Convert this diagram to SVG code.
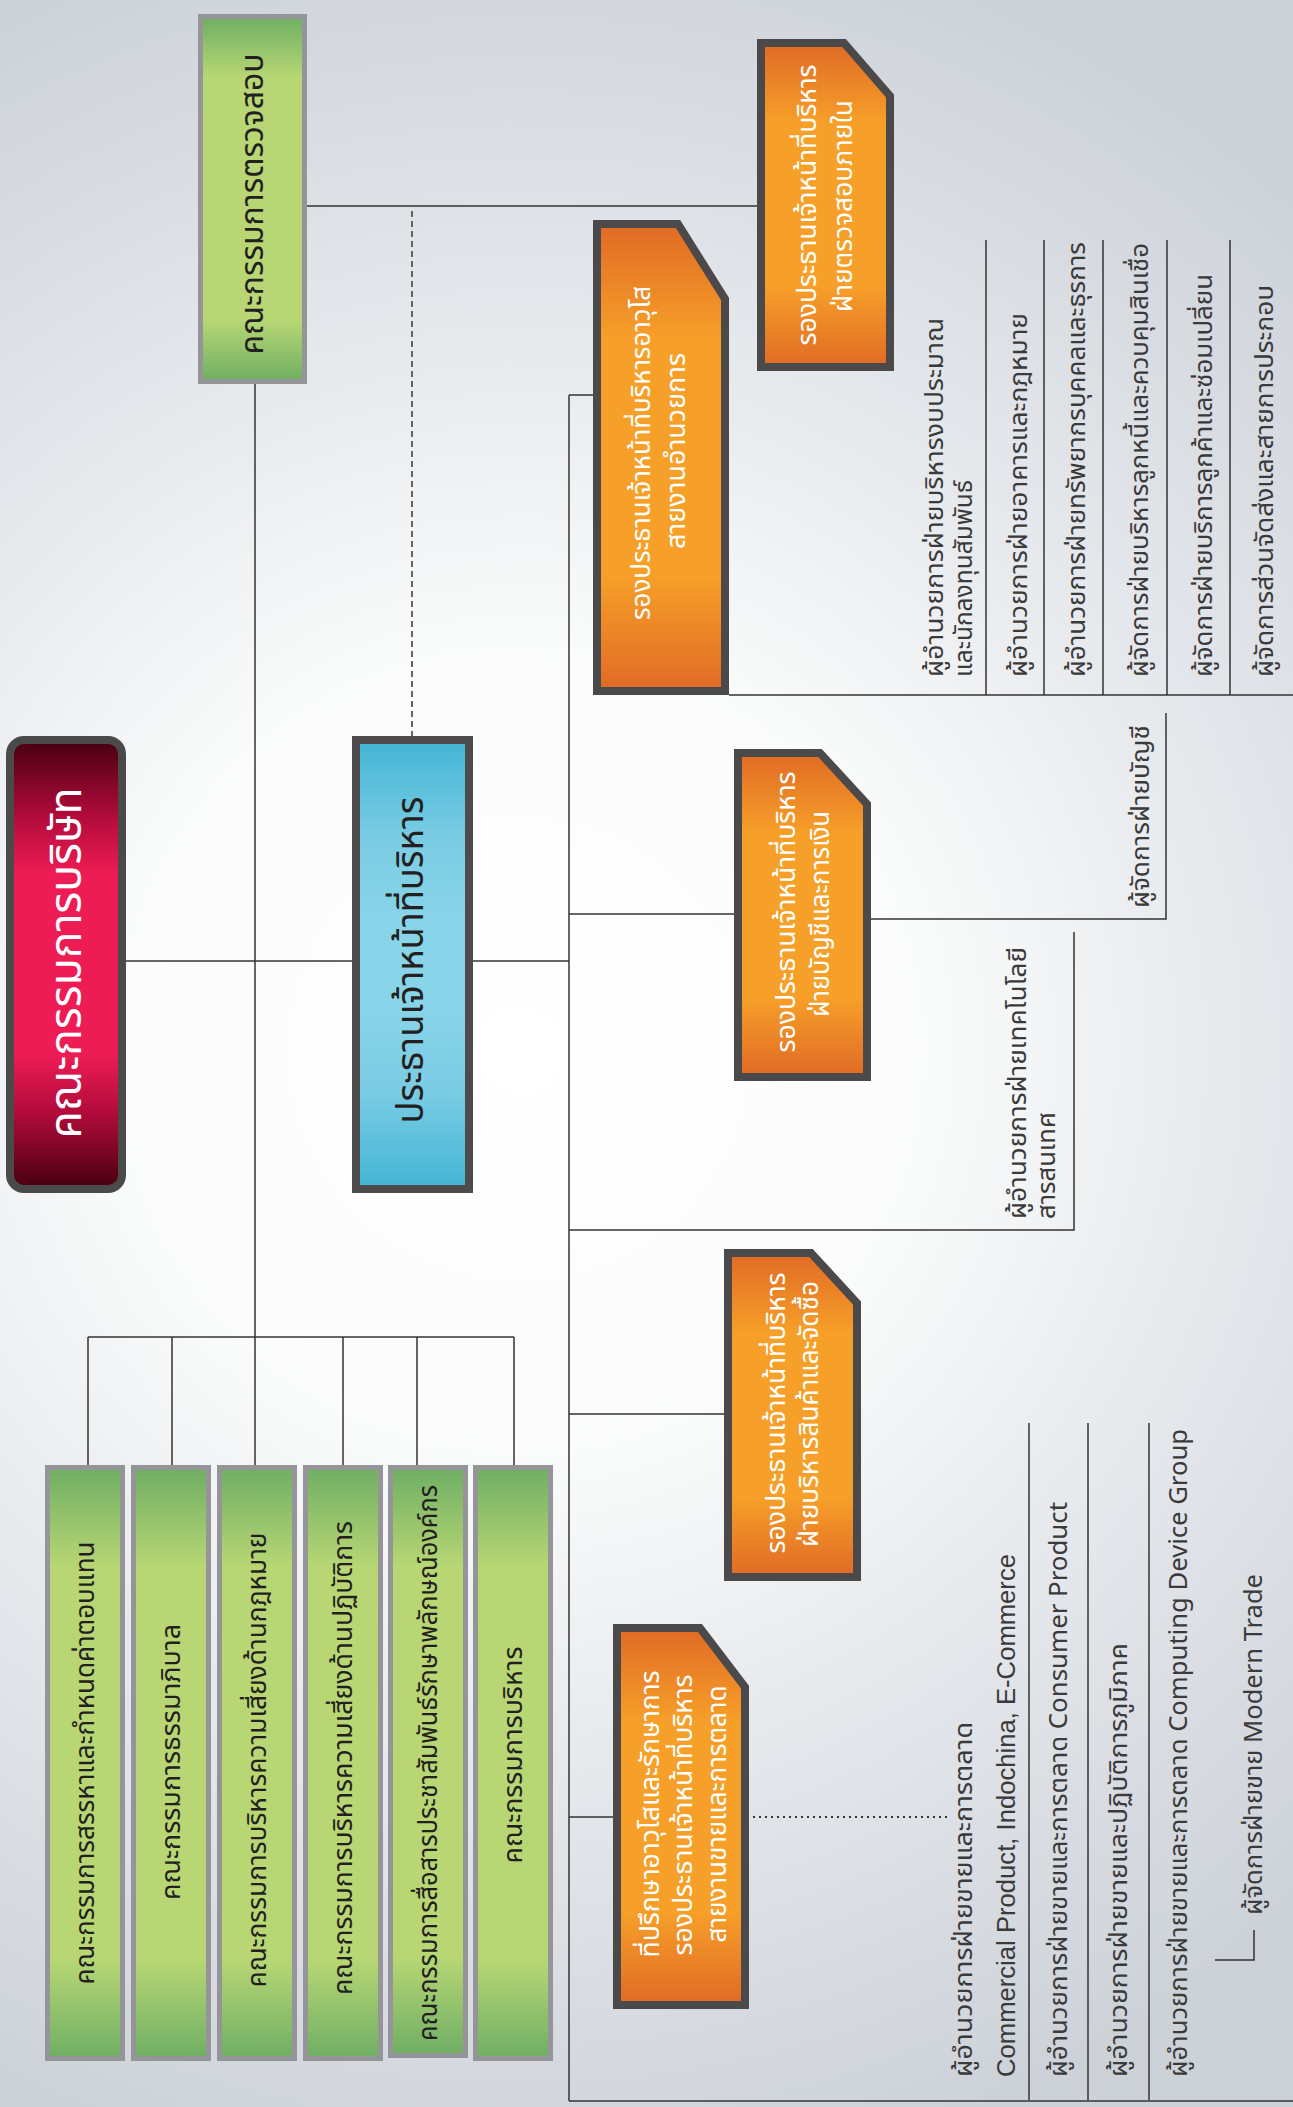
<svg xmlns="http://www.w3.org/2000/svg" width="1293" height="2107" viewBox="0 0 1293 2107">
<defs>
<radialGradient id="bg" gradientUnits="userSpaceOnUse" cx="520" cy="1050" r="1150">
<stop offset="0" stop-color="#FFFFFF"/>
<stop offset="0.35" stop-color="#FAFBFB"/>
<stop offset="0.65" stop-color="#E4E7EB"/>
<stop offset="1" stop-color="#CDD2D9"/>
</radialGradient>
<linearGradient id="gGreen" x1="0" y1="0" x2="0" y2="1">
<stop offset="0" stop-color="#6FAE64"/>
<stop offset="0.17" stop-color="#B8D774"/>
<stop offset="0.83" stop-color="#B8D774"/>
<stop offset="1" stop-color="#6FAE64"/>
</linearGradient>
<linearGradient id="gRed" x1="0" y1="0" x2="0" y2="1">
<stop offset="0" stop-color="#45000E"/>
<stop offset="0.17" stop-color="#B20B3C"/>
<stop offset="0.3" stop-color="#EE1C54"/>
<stop offset="0.7" stop-color="#EE1C54"/>
<stop offset="0.83" stop-color="#B20B3C"/>
<stop offset="1" stop-color="#45000E"/>
</linearGradient>
<linearGradient id="gBlue" x1="0" y1="0" x2="0" y2="1">
<stop offset="0" stop-color="#43B5D5"/>
<stop offset="0.22" stop-color="#7ACCE4"/>
<stop offset="0.4" stop-color="#88D4E9"/>
<stop offset="0.6" stop-color="#88D4E9"/>
<stop offset="0.78" stop-color="#7ACCE4"/>
<stop offset="1" stop-color="#43B5D5"/>
</linearGradient>
<linearGradient id="gOrange" x1="0" y1="0" x2="0" y2="1">
<stop offset="0" stop-color="#E06A25"/>
<stop offset="0.25" stop-color="#F7A029"/>
<stop offset="0.75" stop-color="#F7A029"/>
<stop offset="1" stop-color="#E06A25"/>
</linearGradient>
<style>
.ln{stroke:#333333;stroke-width:1.5;fill:none}
.dash{stroke:#555555;stroke-width:1.8;fill:none;stroke-dasharray:6 4}
.dot{stroke:#333333;stroke-width:2;fill:none;stroke-dasharray:2 4}
.gbox{fill:url(#gGreen);stroke:#959499;stroke-width:5}
.obox{fill:url(#gOrange);stroke:#4B4949;stroke-width:8;stroke-linejoin:miter}
.t{font-family:"Noto Sans Thai","Noto Sans Thai UI","Noto Sans","DejaVu Sans",sans-serif}
.ow{fill:#FFFFFF;font-size:26px}
.dk{fill:#231F20;font-size:26px}
.li{fill:#3A3A3A;font-size:25px}
</style>
</defs>
<rect x="0" y="0" width="1293" height="2107" fill="url(#bg)"/>

<g id="connectors">
<line class="ln" x1="255" y1="384" x2="255" y2="1465"/>
<line class="ln" x1="126" y1="961" x2="352" y2="961"/>
<line class="ln" x1="307" y1="206" x2="757" y2="206"/>
<line class="dash" x1="412" y1="211" x2="412" y2="736"/>
<line class="ln" x1="473" y1="961" x2="569" y2="961"/>
<line class="ln" x1="569" y1="395" x2="569" y2="2101"/>
<line class="ln" x1="569" y1="395" x2="593" y2="395"/>
<line class="ln" x1="729" y1="695" x2="1293" y2="695"/>
<line class="ln" x1="986" y1="240" x2="986" y2="695"/>
<line class="ln" x1="1044" y1="240" x2="1044" y2="695"/>
<line class="ln" x1="1103" y1="240" x2="1103" y2="695"/>
<line class="ln" x1="1167" y1="240" x2="1167" y2="695"/>
<line class="ln" x1="1230" y1="240" x2="1230" y2="695"/>
<line class="ln" x1="569" y1="914" x2="734" y2="914"/>
<polyline class="ln" points="871,919 1166,919 1166,713"/>
<polyline class="ln" points="569,1230 1074,1230 1074,932"/>
<line class="ln" x1="569" y1="1414" x2="724" y2="1414"/>
<line class="ln" x1="569" y1="1817" x2="613" y2="1817"/>
<line class="dot" x1="753" y1="1817" x2="947" y2="1817"/>
<line class="ln" x1="569" y1="2101" x2="1293" y2="2101"/>
<line class="ln" x1="1029" y1="1423" x2="1029" y2="2100"/>
<line class="ln" x1="1088" y1="1423" x2="1088" y2="2100"/>
<line class="ln" x1="1149" y1="1423" x2="1149" y2="2100"/>
<polyline class="ln" points="1215,1960 1254,1960 1254,1930"/>
<line class="ln" x1="88" y1="1337" x2="514" y2="1337"/>
<line class="ln" x1="88" y1="1337" x2="88" y2="1465"/>
<line class="ln" x1="172" y1="1337" x2="172" y2="1465"/>
<line class="ln" x1="343" y1="1337" x2="343" y2="1465"/>
<line class="ln" x1="417" y1="1337" x2="417" y2="1465"/>
<line class="ln" x1="514" y1="1337" x2="514" y2="1465"/>
</g>

<g id="audit-committee">
<rect class="gbox" x="200.5" y="16.5" width="104" height="365"/>
<text class="t dk" style="font-size:32px" transform="translate(263,204) rotate(-90)" text-anchor="middle" textLength="301" lengthAdjust="spacingAndGlyphs">คณะกรรมการตรวจสอบ</text>
</g>

<g id="board">
<rect x="10" y="740" width="112" height="449" rx="14" fill="url(#gRed)" stroke="#4A4A4A" stroke-width="8"/>
<text class="t" style="fill:#FFFFFF;font-size:44px" transform="translate(81,963) rotate(-90)" text-anchor="middle" textLength="351" lengthAdjust="spacingAndGlyphs">คณะกรรมการบริษัท</text>
</g>

<g id="ceo">
<rect x="356" y="740" width="113" height="449" fill="url(#gBlue)" stroke="#4D4B4C" stroke-width="8"/>
<text class="t" style="fill:#231F20;font-size:37px" transform="translate(423,960) rotate(-90)" text-anchor="middle" textLength="327" lengthAdjust="spacingAndGlyphs">ประธานเจ้าหน้าที่บริหาร</text>
</g>

<g id="vp-internal-audit">
<path class="obox" d="M761,43 L844,43 L890,96 L890,367 L761,367 Z"/>
<text class="t ow" transform="translate(816,205) rotate(-90)" text-anchor="middle" textLength="281" lengthAdjust="spacingAndGlyphs">รองประธานเจ้าหน้าที่บริหาร</text>
<text class="t ow" transform="translate(852,206) rotate(-90)" text-anchor="middle" textLength="212" lengthAdjust="spacingAndGlyphs">ฝ่ายตรวจสอบภายใน</text>
</g>

<g id="svp-admin">
<path class="obox" d="M597,224 L678,224 L725,299 L725,691 L597,691 Z"/>
<text class="t ow" transform="translate(650,453) rotate(-90)" text-anchor="middle" textLength="334" lengthAdjust="spacingAndGlyphs">รองประธานเจ้าหน้าที่บริหารอาวุโส</text>
<text class="t ow" transform="translate(685,451) rotate(-90)" text-anchor="middle" textLength="196" lengthAdjust="spacingAndGlyphs">สายงานอำนวยการ</text>
</g>

<g id="admin-staff">
<text class="t li" transform="translate(943,677) rotate(-90)" textLength="359" lengthAdjust="spacingAndGlyphs">ผู้อำนวยการฝ่ายบริหารงบประมาณ</text>
<text class="t li" transform="translate(972,677) rotate(-90)" textLength="197" lengthAdjust="spacingAndGlyphs">และนักลงทุนสัมพันธ์</text>
<text class="t li" transform="translate(1027,677) rotate(-90)" textLength="364" lengthAdjust="spacingAndGlyphs">ผู้อำนวยการฝ่ายอาคารและกฎหมาย</text>
<text class="t li" transform="translate(1085,677) rotate(-90)" textLength="435" lengthAdjust="spacingAndGlyphs">ผู้อำนวยการฝ่ายทรัพยากรบุคคลและธุรการ</text>
<text class="t li" transform="translate(1148,677) rotate(-90)" textLength="434" lengthAdjust="spacingAndGlyphs">ผู้จัดการฝ่ายบริหารลูกหนี้และควบคุมสินเชื่อ</text>
<text class="t li" transform="translate(1212,677) rotate(-90)" textLength="403" lengthAdjust="spacingAndGlyphs">ผู้จัดการฝ่ายบริการลูกค้าและซ่อมเปลี่ยน</text>
<text class="t li" transform="translate(1273,677) rotate(-90)" textLength="392" lengthAdjust="spacingAndGlyphs">ผู้จัดการส่วนจัดส่งและสายการประกอบ</text>
</g>

<g id="vp-finance">
<path class="obox" d="M738,753 L820,753 L867,804 L867,1077 L738,1077 Z"/>
<text class="t ow" transform="translate(795,912) rotate(-90)" text-anchor="middle" textLength="281" lengthAdjust="spacingAndGlyphs">รองประธานเจ้าหน้าที่บริหาร</text>
<text class="t ow" transform="translate(829,914) rotate(-90)" text-anchor="middle" textLength="206" lengthAdjust="spacingAndGlyphs">ฝ่ายบัญชีและการเงิน</text>
</g>

<g id="accounting-manager">
<text class="t li" transform="translate(1149,908) rotate(-90)" textLength="183" lengthAdjust="spacingAndGlyphs">ผู้จัดการฝ่ายบัญชี</text>
</g>

<g id="it-director">
<text class="t li" transform="translate(1026,1219) rotate(-90)" textLength="272" lengthAdjust="spacingAndGlyphs">ผู้อำนวยการฝ่ายเทคโนโลยี</text>
<text class="t li" transform="translate(1055,1219) rotate(-90)" textLength="107" lengthAdjust="spacingAndGlyphs">สารสนเทศ</text>
</g>

<g id="vp-procurement">
<path class="obox" d="M728,1253 L811,1253 L857,1303 L857,1577 L728,1577 Z"/>
<text class="t ow" transform="translate(785,1413) rotate(-90)" text-anchor="middle" textLength="281" lengthAdjust="spacingAndGlyphs">รองประธานเจ้าหน้าที่บริหาร</text>
<text class="t ow" transform="translate(818,1414) rotate(-90)" text-anchor="middle" textLength="266" lengthAdjust="spacingAndGlyphs">ฝ่ายบริหารสินค้าและจัดซื้อ</text>
</g>

<g id="sales-advisor">
<path class="obox" d="M617,1628 L700,1628 L745,1687 L745,2005 L617,2005 Z"/>
<text class="t ow" transform="translate(659,1814) rotate(-90)" text-anchor="middle" textLength="287" lengthAdjust="spacingAndGlyphs">ที่ปรึกษาอาวุโสและรักษาการ</text>
<text class="t ow" transform="translate(692,1815) rotate(-90)" text-anchor="middle" textLength="281" lengthAdjust="spacingAndGlyphs">รองประธานเจ้าหน้าที่บริหาร</text>
<text class="t ow" transform="translate(726,1814) rotate(-90)" text-anchor="middle" textLength="257" lengthAdjust="spacingAndGlyphs">สายงานขายและการตลาด</text>
</g>

<g id="sales-staff">
<text class="t li" transform="translate(972,2077) rotate(-90)" textLength="355" lengthAdjust="spacingAndGlyphs">ผู้อำนวยการฝ่ายขายและการตลาด</text>
<text class="t li" style="font-family:'Liberation Sans',Arial,sans-serif" transform="translate(1015,2077) rotate(-90)" textLength="523" lengthAdjust="spacingAndGlyphs">Commercial Product,  Indochina, E-Commerce</text>
<text class="t li" transform="translate(1067,2077) rotate(-90)" textLength="575" lengthAdjust="spacingAndGlyphs">ผู้อำนวยการฝ่ายขายและการตลาด Consumer Product</text>
<text class="t li" transform="translate(1127,2077) rotate(-90)" textLength="434" lengthAdjust="spacingAndGlyphs">ผู้อำนวยการฝ่ายขายและปฏิบัติการภูมิภาค</text>
<text class="t li" transform="translate(1187,2077) rotate(-90)" textLength="648" lengthAdjust="spacingAndGlyphs">ผู้อำนวยการฝ่ายขายและการตลาด Computing Device Group</text>
<text class="t li" transform="translate(1262,1915) rotate(-90)" textLength="341" lengthAdjust="spacingAndGlyphs">ผู้จัดการฝ่ายขาย Modern Trade</text>
</g>

<g id="committee-nomination">
<rect class="gbox" x="47.5" y="1467.5" width="75" height="591"/>
<text class="t dk" transform="translate(94,1763) rotate(-90)" text-anchor="middle" textLength="443" lengthAdjust="spacingAndGlyphs">คณะกรรมการสรรหาและกำหนดค่าตอบแทน</text>
</g>
<g id="committee-governance">
<rect class="gbox" x="133.5" y="1467.5" width="75" height="591"/>
<text class="t dk" transform="translate(180,1762) rotate(-90)" text-anchor="middle" textLength="276" lengthAdjust="spacingAndGlyphs">คณะกรรมการธรรมาภิบาล</text>
</g>
<g id="committee-legal-risk">
<rect class="gbox" x="219.5" y="1467.5" width="75" height="591"/>
<text class="t dk" transform="translate(266,1760) rotate(-90)" text-anchor="middle" textLength="455" lengthAdjust="spacingAndGlyphs">คณะกรรมการบริหารความเสี่ยงด้านกฎหมาย</text>
</g>
<g id="committee-operational-risk">
<rect class="gbox" x="305.5" y="1467.5" width="75" height="591"/>
<text class="t dk" transform="translate(352,1758) rotate(-90)" text-anchor="middle" textLength="474" lengthAdjust="spacingAndGlyphs">คณะกรรมการบริหารความเสี่ยงด้านปฏิบัติการ</text>
</g>
<g id="committee-communications">
<rect class="gbox" x="390.5" y="1467.5" width="75" height="588"/>
<text class="t dk" transform="translate(437,1763) rotate(-90)" text-anchor="middle" textLength="556" lengthAdjust="spacingAndGlyphs">คณะกรรมการสื่อสารประชาสัมพันธ์รักษาพลักษณ์องค์กร</text>
</g>
<g id="committee-executive">
<rect class="gbox" x="475.5" y="1467.5" width="75" height="591"/>
<text class="t dk" transform="translate(522,1755) rotate(-90)" text-anchor="middle" textLength="217" lengthAdjust="spacingAndGlyphs">คณะกรรมการบริหาร</text>
</g>
</svg>
